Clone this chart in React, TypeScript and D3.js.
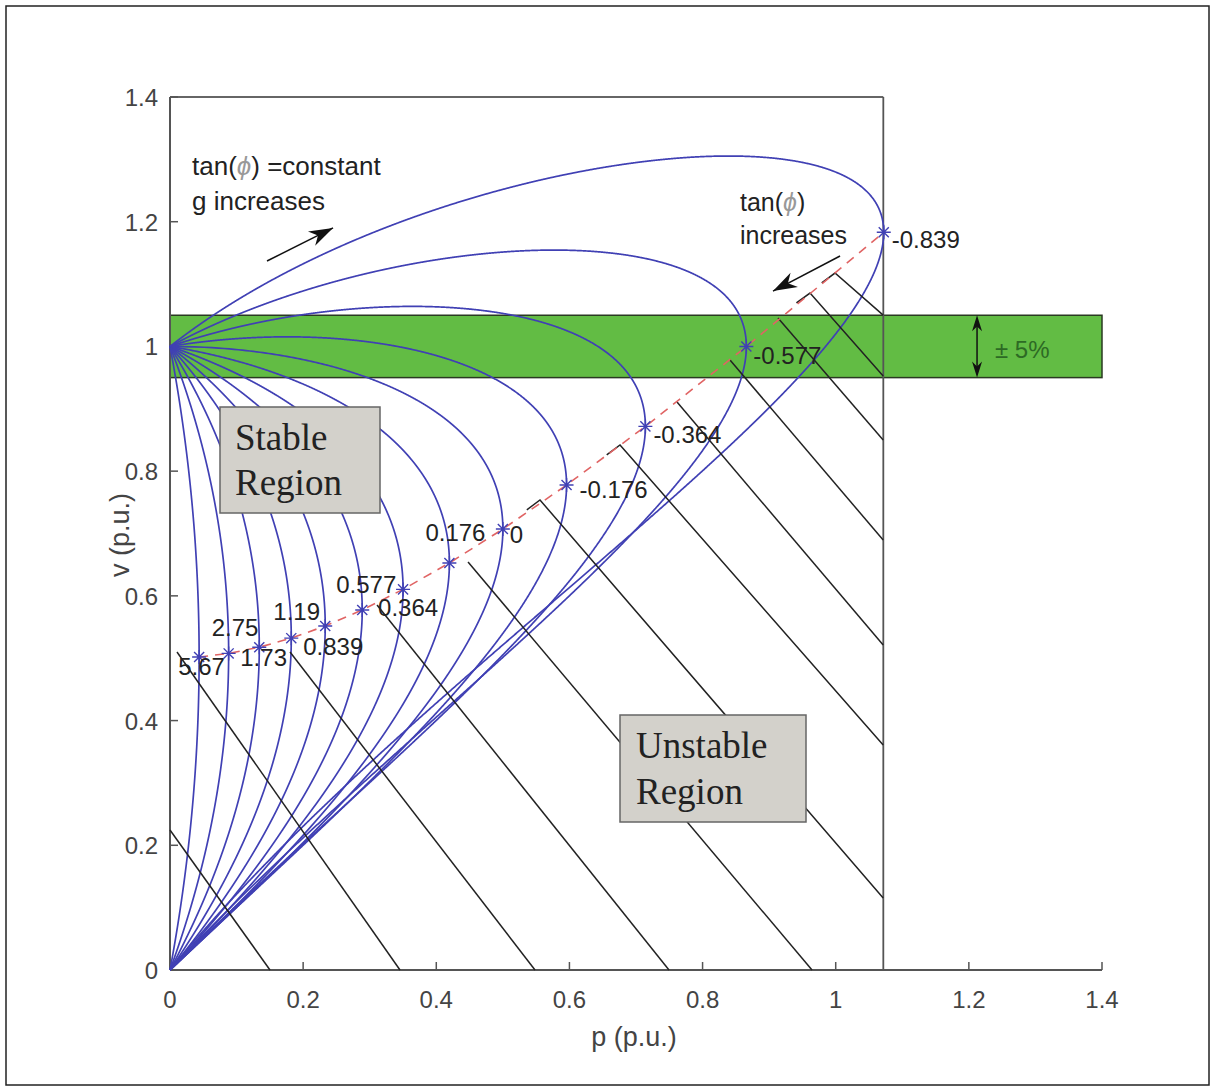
import React from "react";
import * as d3 from "d3";

const W = 1215;
const H = 1091;

// tan(phi) values of the load, one P-V curve each (labels)
const tanPhi = [5.67, 2.75, 1.73, 1.19, 0.839, 0.577, 0.364, 0.176, 0, -0.176, -0.364, -0.577, -0.839];
const tanLabels = ["5.67", "2.75", "1.73", "1.19", "0.839", "0.577", "0.364", "0.176", "0", "-0.176", "-0.364", "-0.577", "-0.839"];

// axis ticks
const xTicks = [0, 0.2, 0.4, 0.6, 0.8, 1, 1.2, 1.4];
const yTicks = [0, 0.2, 0.4, 0.6, 0.8, 1, 1.2, 1.4];

// +/-5 % voltage band
const bandLow = 0.95;
const bandHigh = 1.05;
// maximum loadability line (p.u.)
const pLimit = 1.0715;

// hatch lines of the unstable region, [p, v] points
const hatchLines: [number, number][][] = [
  [[0, 0.2245], [0.1502, 0]],
  [[0.0105, 0.51], [0.3455, 0]],
  [[0.1803, 0.51], [0.5483, 0]],
  [[0.311, 0.5853], [0.7496, 0]],
  [[0.4477, 0.6543], [0.9644, 0]],
  [[0.536, 0.738], [0.5558, 0.7537], [1.0713, 0.1155]],
  [[0.656, 0.826], [0.676, 0.8419], [1.0713, 0.3608]],
  [[0.7616, 0.9108], [1.0713, 0.5212]],
  [[0.8412, 0.9782], [1.0713, 0.6895]],
  [[0.9133, 1.0455], [1.0713, 0.8499]],
  [[0.941, 1.07], [0.9614, 1.0856], [1.0713, 0.9525]],
  [[0.979, 1.102], [0.9989, 1.1177], [1.0713, 1.0503]],
];

// annotation arrows [p, v] from -> to
const arrowConst: [number, number][] = [[0.1457, 1.137], [0.2449, 1.19]];
const arrowTan: [number, number][] = [[1.0065, 1.145], [0.9058, 1.0888]];
const bandArrowP = 1.2123;

// label offsets (px) of the tan(phi) labels relative to the nose point
const labelOffsets: [number, number][] = [
  [-21, 18], [-17, -17], [-19, 19], [-18, -18], [-22, 29], [-26, -17], [-25, 27],
  [-24, -22], [7, 14], [13, 13], [8, 17], [7, 17], [8, 16],
];

const BLUE = "#4040b4";
const SANS = "'Liberation Sans', Arial, Helvetica, sans-serif";
const SERIF = "'Liberation Serif', 'Times New Roman', serif";

function pvCurve(t: number): [number, number][] {
  const pts: [number, number][] = [];
  const k = 1 + t * t;
  const N = 1500;
  if (t >= 0) {
    for (let i = 0; i <= N; i++) {
      const v = i / N;
      const p = (v * (Math.sqrt(Math.max(0, k - v * v)) - t * v)) / k;
      pts.push([Math.max(0, p), v]);
    }
  } else {
    const vmax = Math.sqrt(k);
    for (let i = 0; i <= N; i++) {
      const v = vmax * Math.sin((Math.PI / 2) * (i / N));
      const p = (v * (Math.sqrt(Math.max(0, k - v * v)) - t * v)) / k;
      pts.push([p, v]);
    }
    for (let i = N; i >= 0; i--) {
      const v = 1 + (vmax - 1) * Math.sin((Math.PI / 2) * (i / N));
      const p = (v * (-Math.sqrt(Math.max(0, k - v * v)) - t * v)) / k;
      pts.push([Math.max(0, p), v]);
    }
  }
  return pts;
}

function nose(t: number): [number, number] {
  const p = (Math.sqrt(1 + t * t) - t) / 2;
  const v = Math.sqrt((1 - 2 * p * t) / 2);
  return [p, v];
}

function arrowHead(x1: number, y1: number, x2: number, y2: number, len = 20, half = 7) {
  const a = Math.atan2(y2 - y1, x2 - x1);
  const bx = x2 - len * Math.cos(a);
  const by = y2 - len * Math.sin(a);
  const nx = -Math.sin(a) * half;
  const ny = Math.cos(a) * half;
  const ix = x2 - len * 0.7 * Math.cos(a);
  const iy = y2 - len * 0.7 * Math.sin(a);
  return `M${x2},${y2}L${bx + nx},${by + ny}L${ix},${iy}L${bx - nx},${by - ny}Z`;
}

export default function App() {
  const x = d3.scaleLinear().domain([0, 1.4]).range([170, 1102]);
  const y = d3.scaleLinear().domain([0, 1.4]).range([970, 97]);
  const line = d3
    .line<[number, number]>()
    .x((d) => x(d[0]))
    .y((d) => y(d[1]));

  const noses = tanPhi.map(nose);

  const star = (cx: number, cy: number, r = 7) => {
    const d = r * 0.72;
    return `M${cx - r},${cy}L${cx + r},${cy}M${cx},${cy - r}L${cx},${cy + r}M${cx - d},${cy - d}L${cx + d},${cy + d}M${cx - d},${cy + d}L${cx + d},${cy - d}`;
  };

  const a1 = arrowConst.map(([p, v]) => [x(p), y(v)]);
  const a2 = arrowTan.map(([p, v]) => [x(p), y(v)]);
  const bx = x(bandArrowP);

  return (
    <div style={{ position: "absolute", left: 0, top: 0, background: "#fff" }}>
      <svg width={W} height={H} viewBox={`0 0 ${W} ${H}`} style={{ display: "block" }}>
        <rect x={0} y={0} width={W} height={H} fill="#fff" />
        <rect x={6} y={6} width={W - 12} height={H - 12} fill="none" stroke="#222" strokeWidth={1.5} />

        {/* voltage band */}
        <rect
          x={x(0)}
          y={y(bandHigh)}
          width={x(1.4) - x(0)}
          height={y(bandLow) - y(bandHigh)}
          fill="#62bc44"
          stroke="#2a3a22"
          strokeWidth={1.5}
        />

        {/* axes */}
        <line x1={x(0)} y1={y(0)} x2={x(1.4)} y2={y(0)} stroke="#555" strokeWidth={2} />
        <line x1={x(0)} y1={y(0)} x2={x(0)} y2={y(1.4)} stroke="#555" strokeWidth={2} />
        <line x1={x(0)} y1={y(1.4)} x2={x(pLimit)} y2={y(1.4)} stroke="#666" strokeWidth={2} />
        <line x1={x(pLimit)} y1={y(1.4)} x2={x(pLimit)} y2={y(0)} stroke="#555" strokeWidth={1.8} />
        {xTicks.map((t) => (
          <g key={"xt" + t}>
            <line x1={x(t)} x2={x(t)} y1={y(0)} y2={y(0) - 8} stroke="#555" strokeWidth={1.5} />
            <text x={x(t)} y={y(0) + 38} textAnchor="middle" fontFamily={SANS} fontSize={24} fill="#444">
              {String(t)}
            </text>
          </g>
        ))}
        {yTicks.map((t) => (
          <g key={"yt" + t}>
            <line x1={x(0)} x2={x(0) + 8} y1={y(t)} y2={y(t)} stroke="#555" strokeWidth={1.5} />
            <text x={x(0) - 12} y={y(t) + 9} textAnchor="end" fontFamily={SANS} fontSize={24} fill="#444">
              {String(t)}
            </text>
          </g>
        ))}
        <text x={634} y={1046} textAnchor="middle" fontFamily={SANS} fontSize={27} fill="#444">
          p (p.u.)
        </text>
        <text
          transform={`translate(129,535) rotate(-90)`}
          textAnchor="middle"
          fontFamily={SANS}
          fontSize={27}
          fill="#444"
        >
          v (p.u.)
        </text>

        {/* P-V curves */}
        {tanPhi.map((t) => (
          <path key={"c" + t} d={line(pvCurve(t)) || ""} fill="none" stroke={BLUE} strokeWidth={1.7} />
        ))}

        {/* hatch lines */}
        {hatchLines.map((h, i) => (
          <path key={"h" + i} d={line(h) || ""} fill="none" stroke="#222" strokeWidth={1.5} />
        ))}

        {/* nose locus */}
        <path d={line(noses) || ""} fill="none" stroke="#e06464" strokeWidth={1.6} strokeDasharray="9,7" />
        {noses.map((n, i) => (
          <path key={"s" + i} d={star(x(n[0]), y(n[1]))} stroke={BLUE} strokeWidth={1.4} fill="none" />
        ))}
        {noses.map((n, i) => (
          <text
            key={"l" + i}
            x={x(n[0]) + labelOffsets[i][0]}
            y={y(n[1]) + labelOffsets[i][1]}
            fontFamily={SANS}
            fontSize={24}
            fill="#222"
          >
            {tanLabels[i]}
          </text>
        ))}

        {/* band arrow */}
        <line x1={bx} x2={bx} y1={y(bandHigh) + 4} y2={y(bandLow) - 4} stroke="#111" strokeWidth={1.5} />
        <path d={arrowHead(bx, y(1.0), bx, y(bandHigh), 16, 5)} fill="#111" />
        <path d={arrowHead(bx, y(1.0), bx, y(bandLow), 16, 5)} fill="#111" />
        <text x={995} y={358} fontFamily={SANS} fontSize={24} fill="#2d6a24">
          ± 5%
        </text>

        {/* annotation arrows */}
        <line x1={a1[0][0]} y1={a1[0][1]} x2={a1[1][0]} y2={a1[1][1]} stroke="#111" strokeWidth={1.5} />
        <path d={arrowHead(a1[0][0], a1[0][1], a1[1][0], a1[1][1], 24, 8)} fill="#111" />
        <line x1={a2[0][0]} y1={a2[0][1]} x2={a2[1][0]} y2={a2[1][1]} stroke="#111" strokeWidth={1.5} />
        <path d={arrowHead(a2[0][0], a2[0][1], a2[1][0], a2[1][1], 24, 8)} fill="#111" />

        <text x={192} y={175} fontFamily={SANS} fontSize={26} fill="#222">
          tan(<tspan fill="#999" fontStyle="italic">ϕ</tspan>) =constant
        </text>
        <text x={192} y={210} fontFamily={SANS} fontSize={26} fill="#222">
          g increases
        </text>
        <text x={740} y={211} fontFamily={SANS} fontSize={25} fill="#222">
          tan(<tspan fill="#999" fontStyle="italic">ϕ</tspan>)
        </text>
        <text x={740} y={244} fontFamily={SANS} fontSize={25} fill="#222">
          increases
        </text>

        {/* region boxes */}
        <rect x={220} y={407} width={160} height={106} fill="#d3d1cb" stroke="#666" strokeWidth={1.5} />
        <text x={235} y={450} fontFamily={SERIF} fontSize={37} fill="#222">
          Stable
        </text>
        <text x={235} y={495} fontFamily={SERIF} fontSize={37} fill="#222">
          Region
        </text>
        <rect x={620} y={715} width={186} height={107} fill="#d3d1cb" stroke="#666" strokeWidth={1.5} />
        <text x={636} y={758} fontFamily={SERIF} fontSize={37} fill="#222">
          Unstable
        </text>
        <text x={636} y={804} fontFamily={SERIF} fontSize={37} fill="#222">
          Region
        </text>
      </svg>
    </div>
  );
}
